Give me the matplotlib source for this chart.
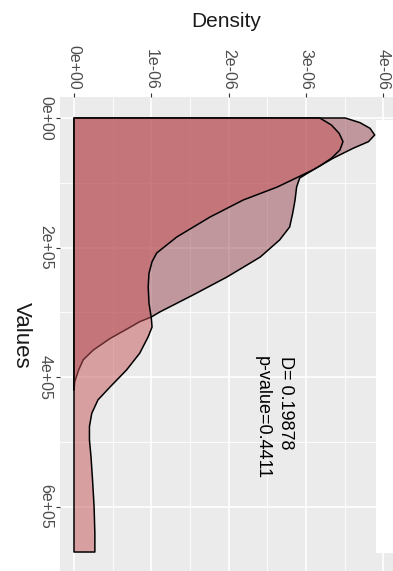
import numpy as np
import matplotlib
matplotlib.use("Agg")
import matplotlib.pyplot as plt
from matplotlib.patches import Rectangle

plt.rcParams['font.family'] = ['Liberation Sans', 'DejaVu Sans']

# density curves (values on one axis, density in units of 1e-06)
values_a = [0, 7200, 15900, 26200, 36500, 46800, 62200, 80200, 92600, 106500,
            126500, 146600, 168200, 188200, 214500, 245300, 273100, 299300,
            307100, 314300, 326000, 340000, 358000, 373000, 388800, 406900, 420000]
dens_a = np.array([3.51, 3.70, 3.83, 3.89, 3.81, 3.61, 3.35, 3.09, 2.92, 2.88,
                   2.86, 2.83, 2.79, 2.66, 2.41, 1.98, 1.54, 1.11,
                   1.00, 0.85, 0.68, 0.47, 0.25, 0.12, 0.06, 0.01, 0.0]) * 1e-6

values_b = [0, 10800, 23600, 36500, 49400, 62200, 74000, 80200, 106500, 126500,
            152800, 183600, 208300, 221700, 239700, 260300, 285500, 308600,
            322500, 337500, 363000, 388800, 414600, 435000, 455700, 476000,
            496800, 522600, 558600, 599700, 640800, 669700]
dens_b = np.array([3.18, 3.33, 3.43, 3.48, 3.44, 3.33, 3.18, 3.09, 2.63, 2.19,
                   1.76, 1.33, 1.07, 1.01, 0.97, 0.96, 0.97, 1.00,
                   1.01, 0.96, 0.85, 0.68, 0.47, 0.31, 0.23, 0.20,
                   0.20, 0.22, 0.24, 0.26, 0.27, 0.27]) * 1e-6

dens_ticks = [0, 1e-6, 2e-6, 3e-6, 4e-6]
dens_labels = ["0e+00", "1e-06", "2e-06", "3e-06", "4e-06"]
value_ticks = [0, 200000, 400000, 600000]
value_labels = ["0e+00", "2e+05", "4e+05", "6e+05"]

ks_text = ["D= 0.19878", "p-value=0.4411"]

W, H = 393, 571
fig = plt.figure(figsize=(W / 100, H / 100), dpi=100)
ax = fig.add_axes([60 / W, 0, 333 / W, (H - 97) / H])
ax.set_facecolor("#EBEBEB")

for vals, dens, col in [(values_a, dens_a, "#974550"), (values_b, dens_b, "#C75458")]:
    xs = np.r_[0, dens, 0]
    ys = np.r_[vals[0], vals, vals[-1]]
    ax.fill(xs, ys, facecolor=col, alpha=0.5, edgecolor="none")
    ax.fill(xs, ys, facecolor="none", edgecolor="black", linewidth=1.1,
            joinstyle="round")

ax.set_xlim(-0.181e-6, 4.127e-6)
ax.set_ylim(699000, -32400)

ax.set_xticks(dens_ticks)
ax.set_xticklabels(dens_labels)
ax.set_xticks([0.5e-6, 1.5e-6, 2.5e-6, 3.5e-6], minor=True)
ax.set_yticks(value_ticks)
ax.set_yticklabels(value_labels)
ax.set_yticks([100000, 300000, 500000], minor=True)

ax.grid(which="major", color="white", linewidth=1.2)
ax.grid(which="minor", color="white", linewidth=0.6)
ax.set_axisbelow(True)
for s in ax.spines.values():
    s.set_visible(False)

ax.xaxis.tick_top()
ax.tick_params(axis="x", which="major", top=True, bottom=False, labeltop=True,
               labelbottom=False, labelrotation=-90, length=3, width=0.8,
               color="#333333", labelcolor="#4D4D4D", labelsize=11.5, pad=2)
ax.tick_params(axis="y", which="major", length=3, width=0.8, color="#333333",
               labelcolor="#4D4D4D", labelsize=11.5, labelrotation=-90, pad=2)
ax.tick_params(which="minor", length=0)
for lab in ax.get_yticklabels():
    lab.set_va("center")

ax.text(2.73e-6, 368000, ks_text[0], rotation=-90, ha="center", va="top",
        fontsize=13)
ax.text(2.43e-6, 368000, ks_text[1], rotation=-90, ha="center", va="top",
        fontsize=13)

fig.text(226 / W, 1 - 26.7 / H, "Density", ha="center", va="baseline",
         fontsize=15, color="#1A1A1A")
fig.text(21 / W, 1 - 335 / H, "Values", ha="center", va="center",
         rotation=-90, fontsize=16, color="#1A1A1A")

fig.add_artist(Rectangle((376 / W, (H - 553) / H), 17 / W, 433 / H,
                         transform=fig.transFigure, facecolor="white",
                         edgecolor="none", zorder=10))

fig.savefig("out.png", dpi=100)
